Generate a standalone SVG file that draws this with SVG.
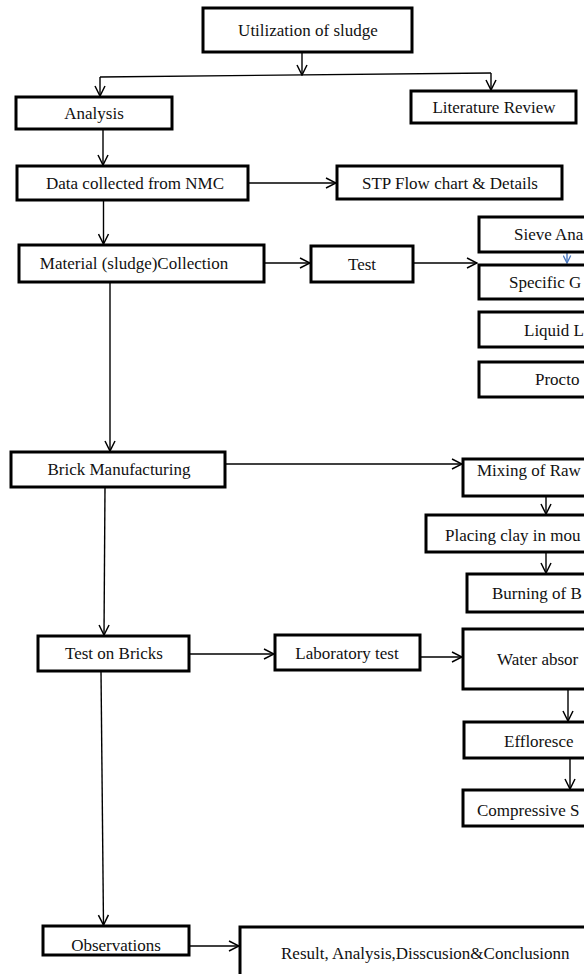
<svg xmlns="http://www.w3.org/2000/svg" width="584" height="974" viewBox="0 0 584 974">
<defs>
<style>
.box{fill:#fff;stroke:#000;stroke-width:3}
.t{font-family:"Liberation Serif","Times New Roman",serif;font-size:17px;fill:#111}
.c{text-anchor:middle}
.ln{fill:none;stroke:#000;stroke-width:1.4}
.ar{marker-end:url(#ah)}
</style>
<marker id="ah" viewBox="0 0 12 12" refX="11" refY="6" markerWidth="12" markerHeight="12" markerUnits="userSpaceOnUse" orient="auto">
<path d="M1,1 L11,6 L1,11" fill="none" stroke="#000" stroke-width="1.5"/>
</marker>
<marker id="ahb" viewBox="0 0 12 12" refX="11" refY="6" markerWidth="9" markerHeight="9" markerUnits="userSpaceOnUse" orient="auto">
<path d="M1,1 L11,6 L1,11" fill="none" stroke="#4a78c0" stroke-width="1.8"/>
</marker>
</defs>
<rect width="584" height="974" fill="#fff"/>
<g id="connectors">
<path class="ln ar" d="M302,52 L302,75"/>
<path class="ln" d="M100,77 L491,73"/>
<path class="ln ar" d="M100,77 L100,96"/>
<path class="ln ar" d="M491,73 L491,90"/>
<path class="ln ar" d="M103,129 L103,165"/>
<path class="ln ar" d="M248,183 L336,183"/>
<path class="ln ar" d="M103.5,200 L103.5,244"/>
<path class="ln ar" d="M264,263 L310,263"/>
<path class="ln ar" d="M413,263 L477,263"/>
<path d="M567,252 L567,263" fill="none" stroke="#4a78c0" stroke-width="1.4" marker-end="url(#ahb)"/>
<path class="ln ar" d="M110,282 L110,451"/>
<path class="ln ar" d="M225,464 L462,464"/>
<path class="ln ar" d="M546,496 L546,514"/>
<path class="ln ar" d="M546,552 L546,573"/>
<path class="ln ar" d="M105,487 L104,635"/>
<path class="ln ar" d="M189,654 L274,654"/>
<path class="ln ar" d="M420,657 L462,657"/>
<path class="ln ar" d="M568,689 L568,721"/>
<path class="ln ar" d="M570,758 L570,789"/>
<path class="ln ar" d="M101,671 L103.5,925"/>
<path class="ln ar" d="M183,946 L239,946"/>
</g>
<g id="n-util"><rect class="box" x="203" y="8" width="209" height="44"/><text class="t c" x="308" y="36">Utilization of sludge</text></g>
<g id="n-analysis"><rect class="box" x="16" y="97" width="156" height="32"/><text class="t c" x="94" y="119">Analysis</text></g>
<g id="n-lit"><rect class="box" x="411" y="91" width="165" height="32"/><text class="t c" x="494" y="113">Literature Review</text></g>
<g id="n-data"><rect class="box" x="17" y="166" width="231" height="34"/><text class="t c" x="135" y="189">Data collected from NMC</text></g>
<g id="n-stp"><rect class="box" x="337" y="166" width="225" height="33"/><text class="t c" x="450" y="189">STP Flow chart &amp; Details</text></g>
<g id="n-material"><rect class="box" x="19" y="245" width="245" height="37"/><text class="t c" x="134" y="269">Material (sludge)Collection</text></g>
<g id="n-test"><rect class="box" x="311" y="246" width="102" height="36"/><text class="t c" x="362" y="270">Test</text></g>
<g id="n-sieve"><rect class="box" x="479" y="217" width="200" height="35"/><text class="t" x="514" y="240">Sieve Ana</text></g>
<g id="n-specific"><rect class="box" x="479" y="265" width="200" height="34"/><text class="t" x="509" y="288">Specific G</text></g>
<g id="n-liquid"><rect class="box" x="479" y="312" width="200" height="35"/><text class="t" x="524" y="336">Liquid L</text></g>
<g id="n-proctor"><rect class="box" x="479" y="362" width="200" height="35"/><text class="t" x="535" y="385">Procto</text></g>
<g id="n-brick"><rect class="box" x="11" y="452" width="214" height="35"/><text class="t c" x="119" y="475">Brick Manufacturing</text></g>
<g id="n-mixing"><rect class="box" x="463" y="459" width="200" height="37"/><text class="t" x="477" y="476">Mixing of Raw</text></g>
<g id="n-placing"><rect class="box" x="426" y="515" width="200" height="37"/><text class="t" x="445" y="541">Placing clay in mou</text></g>
<g id="n-burning"><rect class="box" x="467" y="574" width="200" height="38"/><text class="t" x="492" y="599">Burning of B</text></g>
<g id="n-testbricks"><rect class="box" x="38" y="636" width="151" height="35"/><text class="t c" x="114" y="659">Test on Bricks</text></g>
<g id="n-lab"><rect class="box" x="275" y="635" width="145" height="35"/><text class="t c" x="347" y="659">Laboratory test</text></g>
<g id="n-water"><rect class="box" x="463" y="629" width="200" height="60"/><text class="t" x="497" y="665">Water absor</text></g>
<g id="n-efflor"><rect class="box" x="464" y="722" width="200" height="36"/><text class="t" x="504" y="747">Effloresce</text></g>
<g id="n-compressive"><rect class="box" x="463" y="790" width="200" height="36"/><text class="t" x="477" y="816">Compressive S</text></g>
<g id="n-observations"><rect class="box" x="43" y="926" width="146" height="29"/><text class="t c" x="116" y="951">Observations</text></g>
<g id="n-result"><rect class="box" x="240" y="927" width="400" height="80"/><text class="t" x="281" y="959">Result, Analysis,Disscusion&amp;Conclusionn</text></g>
</svg>
